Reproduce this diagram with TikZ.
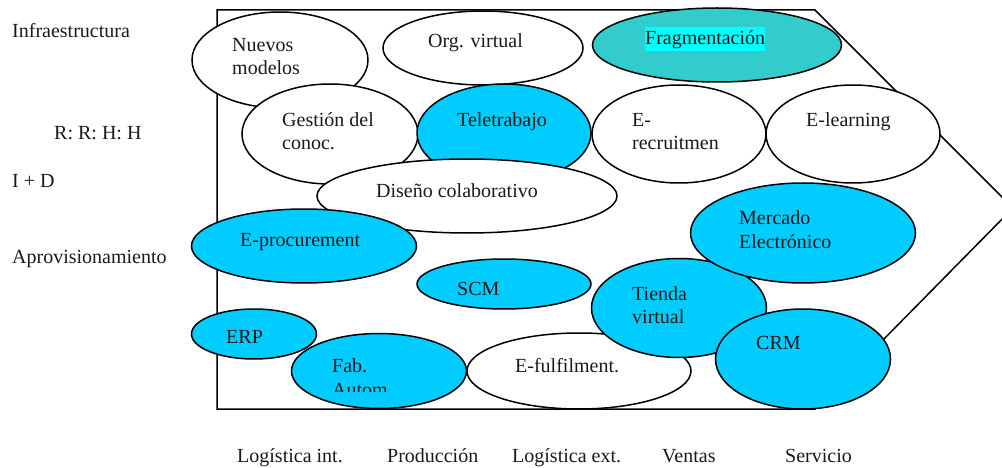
\documentclass[tikz,border=0pt]{standalone}
\usepackage{fontspec}
\setmainfont{Liberation Serif}
\usetikzlibrary{shapes.geometric}
\definecolor{cyanfill}{HTML}{00CCFF}
\definecolor{tealfill}{HTML}{33CCCC}
\definecolor{hilite}{HTML}{00FFFF}
\definecolor{txt}{HTML}{1A1A1A}
\tikzset{
  ell/.style={draw=black, line width=1.5pt, ellipse, inner sep=0pt, fill=white},
  blue ell/.style={ell, fill=cyanfill},
  lbl/.style={anchor=base west, inner sep=0pt, text=txt, font=\fontsize{20}{24}\selectfont},
}
\begin{document}
\begin{tikzpicture}[x=1pt,y=-1pt]
\useasboundingbox (0,0) rectangle (1002,468);
% value chain outline
\draw[line width=1.5pt] (217,10) -- (815,10) -- (1013,208) -- (815,409) -- (217,409) -- cycle;

% ellipses (drawing order matters for overlaps)
\node[ell, minimum width=176pt, minimum height=96pt] (nuevos) at (280,60) {};
\node[ell, minimum width=200pt, minimum height=74pt] (org) at (483,48) {};
\node[ell, fill=tealfill, minimum width=249pt, minimum height=74pt] (frag) at (717,45) {};
\node[ell, minimum width=176pt, minimum height=100pt] (gest) at (330,134) {};
\node[blue ell, minimum width=174pt, minimum height=98pt] (tele) at (504,133) {};
\node[ell, minimum width=174pt, minimum height=98pt] (erec) at (679,134) {};
\node[ell, minimum width=174pt, minimum height=98pt] (elearn) at (853,134) {};
\node[ell, minimum width=300pt, minimum height=74pt] (dis) at (467,196) {};
\node[blue ell, minimum width=225pt, minimum height=74pt] (eproc) at (304,246) {};
\node[blue ell, minimum width=174pt, minimum height=50pt] (scm) at (504,284) {};
\node[ell, minimum width=224pt, minimum height=76pt] (efulf) at (579,371) {};
\node[blue ell, minimum width=175pt, minimum height=99pt] (tienda) at (679,308) {};
\node[blue ell, minimum width=225pt, minimum height=100pt] (merc) at (803,233) {};
\node[blue ell, minimum width=175pt, minimum height=100pt] (crm) at (803,359) {};
\node[blue ell, minimum width=175pt, minimum height=75pt] (fab) at (379,371) {};
\node[blue ell, minimum width=125pt, minimum height=50pt] (erp) at (254,334) {};

% texts inside ellipses
\node[lbl] (tnuevos1) at (232,52) {Nuevos};
\node[lbl] (tnuevos2) at (232,75) {modelos};
\node[lbl] (torg) at (428,48) {Org. virtual};
\node[lbl, fill=hilite, text height=18pt, text depth=6pt] (tfrag) at (645,45) {Fragmentación};
\node[lbl] (tgest1) at (282,127) {Gestión del};
\node[lbl] (tgest2) at (282,150) {conoc.};
\node[lbl] (ttele) at (457,127) {Teletrabajo};
\node[lbl] (terec1) at (632,127) {E-};
\node[lbl] (terec2) at (632,150) {recruitmen};
\node[lbl] (telearn) at (806,127) {E-learning};
\node[lbl] (tdis) at (376,197) {Diseño colaborativo};
\node[lbl] (teproc) at (240,247) {E-procurement};
\node[lbl] (tmerc1) at (739,225) {Mercado};
\node[lbl] (tmerc2) at (739,248) {Electrónico};
\node[lbl] (tscm) at (457,295) {SCM};
\node[lbl] (ttienda1) at (632,300) {Tienda};
\node[lbl] (ttienda2) at (632,323) {virtual};
\node[lbl] (terp) at (226,343) {ERP};
\node[lbl] (tfab1) at (332,372) {Fab.};
\begin{scope}
  \clip (300,375) rectangle (460,391);
  \node[lbl] (tfab2) at (332,396) {Autom};
\end{scope}
\node[lbl] (tefulf) at (515,372) {E-fulfilment.};
\node[lbl] (tcrm) at (756,349) {CRM};

% left labels
\node[lbl] (infra) at (12,38) {Infraestructura};
\node[lbl] (rrhh) at (54,140) {R: R: H: H};
\node[lbl] (imasd) at (12,188) {I + D};
\node[lbl] (aprov) at (12,263) {Aprovisionamiento};

% bottom labels
\node[lbl] (logint) at (237,462) {Logística int.};
\node[lbl] (prod) at (387,462) {Producción};
\node[lbl] (logext) at (512,462) {Logística ext.};
\node[lbl] (ventas) at (662,462) {Ventas};
\node[lbl] (serv) at (785,462) {Servicio};
\end{tikzpicture}
\end{document}
